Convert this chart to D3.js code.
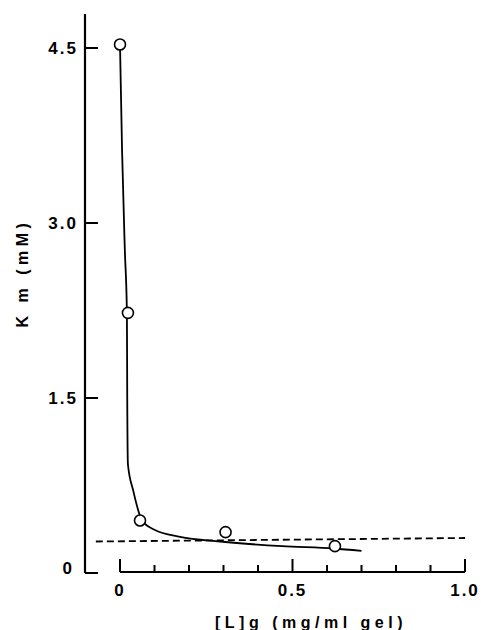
<!DOCTYPE html>
<html><head><meta charset="utf-8">
<script src="https://cdn.jsdelivr.net/npm/d3@7"></script>
<style>body{margin:0;background:#fff;} svg{display:block;}</style>
</head><body>
<script>
// Data
const xConc = [0.0, 0.023, 0.058, 0.306, 0.623];          // [L]g (mg/ml gel)
const kmObs = [4.53, 2.23, 0.45, 0.35, 0.23];            // Km (mM)
const fitX = [0.0, 0.006, 0.014, 0.02, 0.021, 0.023, 0.038, 0.064, 0.10, 0.174, 0.29, 0.47, 0.62, 0.70];
const fitY = [4.53, 3.62, 2.77, 2.23, 1.48, 0.93, 0.71, 0.45, 0.37, 0.31, 0.27, 0.23, 0.21, 0.19];
const dashX = [-0.07, 1.0];
const dashY = [0.27, 0.30];
const yTicks = [0, 1.5, 3.0, 4.5];
const yTickLabels = ["0", "1.5", "3.0", "4.5"];
const xMajor = [0, 0.5, 1.0];
const xMajorLabels = ["0", "0.5", "1.0"];
const xMinor = [0.1, 0.2, 0.3, 0.4, 0.6, 0.7, 0.8, 0.9];

const W = 481, H = 630;
const svg = d3.select("body").append("svg").attr("width", W).attr("height", H);

const x = d3.scaleLinear().domain([0, 1]).range([120, 465]);
const y = d3.scaleLinear().domain([0, 4.5]).range([573, 48]);

const font = "'Liberation Sans', Arial, sans-serif";

// Y axis
const yAxisX = 85;
svg.append("line").attr("x1", yAxisX).attr("x2", yAxisX).attr("y1", 14).attr("y2", y(0))
  .attr("stroke", "#000").attr("stroke-width", 2.2);
svg.selectAll(".ytick").data(yTicks).enter().append("line")
  .attr("x1", yAxisX).attr("x2", 98).attr("y1", d => y(d)).attr("y2", d => y(d))
  .attr("stroke", "#000").attr("stroke-width", 2);
svg.selectAll(".ylab").data(yTicks).enter().append("text")
  .attr("x", (d,i) => i === 0 ? 74 : 78).attr("y", (d,i) => (i === 0 ? y(d) - 5 : y(d)) + 6)
  .attr("text-anchor", "end").attr("font-family", font).attr("font-weight", "bold")
  .attr("font-size", 17).attr("letter-spacing", 2)
  .text((d,i) => yTickLabels[i]);

// X axis
const xAxisY = 572;
svg.append("line").attr("x1", x(0)).attr("x2", x(1)).attr("y1", xAxisY).attr("y2", xAxisY)
  .attr("stroke", "#000").attr("stroke-width", 2.2);
svg.selectAll(".xmaj").data(xMajor).enter().append("line")
  .attr("x1", d => x(d)).attr("x2", d => x(d)).attr("y1", xAxisY).attr("y2", xAxisY - 13)
  .attr("stroke", "#000").attr("stroke-width", 2);
svg.selectAll(".xmin").data(xMinor).enter().append("line")
  .attr("x1", d => x(d)).attr("x2", d => x(d)).attr("y1", xAxisY).attr("y2", xAxisY - 7)
  .attr("stroke", "#000").attr("stroke-width", 2);
svg.selectAll(".xlab").data(xMajor).enter().append("text")
  .attr("x", d => x(d)).attr("y", 596)
  .attr("text-anchor", "middle").attr("font-family", font).attr("font-weight", "bold")
  .attr("font-size", 17).attr("letter-spacing", 2)
  .text((d,i) => xMajorLabels[i]);

// Axis titles
svg.append("text").attr("x", 311).attr("y", 628).attr("text-anchor", "middle")
  .attr("font-family", font).attr("font-weight", "bold").attr("font-size", 16)
  .attr("letter-spacing", 4.5).text("[L]g (mg/ml gel)");
svg.append("text").attr("transform", "translate(28,273) rotate(-90)").attr("text-anchor", "middle")
  .attr("font-family", font).attr("font-weight", "bold").attr("font-size", 16)
  .attr("letter-spacing", 4.5).text("K m (mM)");

// Dashed line
svg.append("line").attr("x1", x(dashX[0])).attr("x2", x(dashX[1]))
  .attr("y1", y(dashY[0])).attr("y2", y(dashY[1]))
  .attr("stroke", "#000").attr("stroke-width", 1.8).attr("stroke-dasharray", "7,4");

// Fitted curve
const fit = fitX.map((v,i) => [v, fitY[i]]);
svg.append("path").datum(fit)
  .attr("d", d3.line().x(d => x(d[0])).y(d => y(d[1])).curve(d3.curveMonotoneX))
  .attr("fill", "none").attr("stroke", "#000").attr("stroke-width", 1.8);

// Points
svg.selectAll(".pt").data(xConc).enter().append("circle")
  .attr("cx", d => x(d)).attr("cy", (d,i) => y(kmObs[i])).attr("r", 5.5)
  .attr("fill", "#fff").attr("stroke", "#000").attr("stroke-width", 1.6);
</script>
</body></html>
